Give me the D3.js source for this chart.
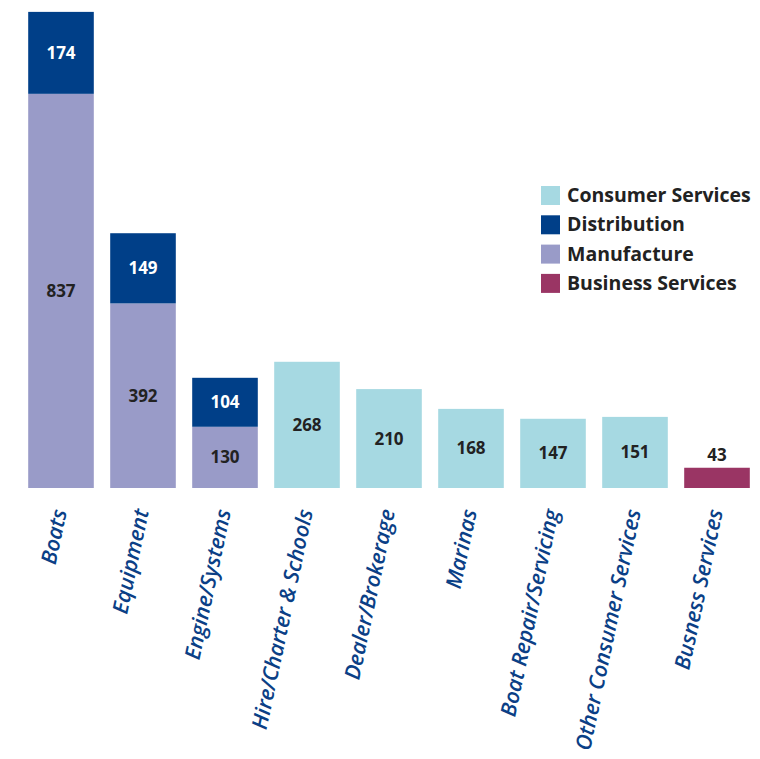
<!DOCTYPE html>
<meta charset="utf-8">
<style>
  body { margin: 0; background: #fff; }
  text { font-family: "Open Sans", "DejaVu Sans", sans-serif; }
</style>
<body>
<div id="chart"></div>
<script src="https://cdn.jsdelivr.net/npm/d3@7"></script>
<script>
  const categories = ['Boats', 'Equipment', 'Engine/Systems', 'Hire/Charter & Schools',
    'Dealer/Brokerage', 'Marinas', 'Boat Repair/Servicing', 'Other Consumer Services', 'Busness Services'];
  const manufacture = [837, 392, 130, 0, 0, 0, 0, 0, 0];
  const distribution = [174, 149, 104, 0, 0, 0, 0, 0, 0];
  const consumerServices = [0, 0, 0, 268, 210, 168, 147, 151, 0];
  const businessServices = [0, 0, 0, 0, 0, 0, 0, 0, 43];

  const keys = ['manufacture', 'distribution', 'consumer', 'business'];
  const colors = {
    consumer: '#a6d9e2',
    distribution: '#003f88',
    manufacture: '#999bc8',
    business: '#9a3564'
  };
  const legendItems = [
    ['consumer', 'Consumer Services'],
    ['distribution', 'Distribution'],
    ['manufacture', 'Manufacture'],
    ['business', 'Business Services']
  ];

  const rows = categories.map((c, i) => ({
    cat: c,
    manufacture: manufacture[i],
    distribution: distribution[i],
    consumer: consumerServices[i],
    business: businessServices[i]
  }));

  const series = d3.stack().keys(keys)(rows);

  const width = 760, height = 759;
  const svg = d3.select('#chart').append('svg')
      .attr('width', width)
      .attr('height', height);

  const x = d3.scaleBand().domain(categories).range([20, 758]).paddingInner(0.2).paddingOuter(0.1);
  const y = d3.scaleLinear().domain([0, 1015]).range([488, 10]);

  // bars
  svg.selectAll('g.layer').data(series).enter().append('g')
      .attr('class', 'layer')
      .attr('fill', s => colors[s.key])
      .selectAll('rect').data(s => s.filter(d => d[1] > d[0]).map(d => ({ d, key: s.key })))
      .enter().append('rect')
      .attr('x', o => x(o.d.data.cat))
      .attr('y', o => y(o.d[1]))
      .attr('width', x.bandwidth())
      .attr('height', o => y(o.d[0]) - y(o.d[1]));

  // value labels
  series.forEach(s => {
    s.forEach(d => {
      const v = d[1] - d[0];
      if (v <= 0) return;
      const small = (y(d[0]) - y(d[1])) < 30;
      svg.append('text')
          .attr('x', x(d.data.cat) + x.bandwidth() / 2)
          .attr('y', small ? y(d[1]) - 7 : (y(d[0]) + y(d[1])) / 2 + 6)
          .attr('text-anchor', 'middle')
          .attr('font-size', 17)
          .attr('font-weight', 700)
          .attr('fill', s.key === 'distribution' ? '#fff' : '#222')
          .text(v);
    });
  });

  // category labels
  svg.selectAll('text.cat').data(categories).enter().append('text')
      .attr('class', 'cat')
      .attr('transform', c => `translate(${x(c) + x.bandwidth() / 2 + 6},511) rotate(-78)`)
      .attr('text-anchor', 'end')
      .attr('font-size', 21.5)
      .attr('font-style', 'italic')
      .attr('font-weight', 600)
      .attr('fill', '#0b3f86')
      .text(c => c);

  // legend
  const legend = svg.append('g').attr('transform', 'translate(541,186)');
  const li = legend.selectAll('g').data(legendItems).enter().append('g')
      .attr('transform', (d, i) => `translate(0,${i * 29.3})`);
  li.append('rect').attr('width', 19).attr('height', 19).attr('fill', d => colors[d[0]]);
  li.append('text')
      .attr('x', 26).attr('y', 16)
      .attr('font-size', 19.5)
      .attr('font-weight', 700)
      .attr('fill', '#222')
      .text(d => d[1]);
</script>
